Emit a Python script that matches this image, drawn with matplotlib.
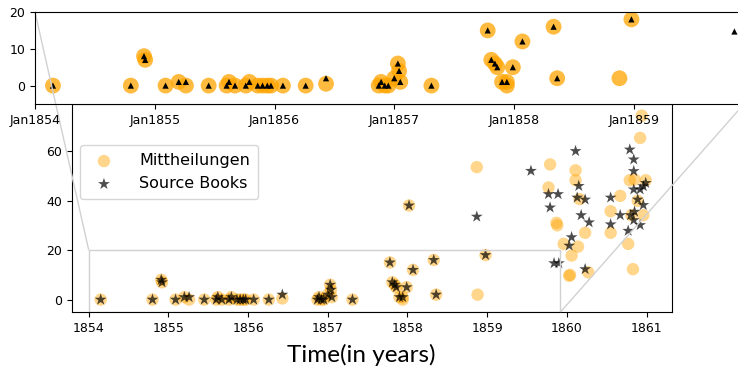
import matplotlib
matplotlib.use('Agg')
import matplotlib.pyplot as plt
from mpl_toolkits.axes_grid1.inset_locator import mark_inset

# Mittheilungen: (year, count)
mitt_years = [1854.15, 1854.80, 1854.91, 1854.92, 1855.09, 1855.20, 1855.26, 1855.45,
              1855.60, 1855.62, 1855.67, 1855.76, 1855.79, 1855.86, 1855.90, 1855.94,
              1855.97, 1856.07, 1856.26, 1856.43,
              1856.87, 1856.89, 1856.92, 1856.95, 1857.00, 1857.03, 1857.04, 1857.05,
              1857.31, 1857.78, 1857.81, 1857.84, 1857.86, 1857.90, 1857.94, 1857.94,
              1857.99, 1858.02, 1858.07, 1858.33, 1858.36, 1858.88, 1858.87, 1858.98,
              1859.79, 1859.77, 1859.87, 1859.88, 1859.96, 1860.06, 1860.03, 1860.04,
              1860.11, 1860.11, 1860.16, 1860.14, 1860.23, 1860.27, 1860.55, 1860.55,
              1860.67, 1860.77, 1860.83, 1860.79, 1860.85, 1860.92, 1860.94, 1860.99,
              1860.89, 1860.96, 1860.81]
mitt_counts = [0, 0, 8, 7, 0, 1, 0, 0,
               0, 1, 0, 0, 1, 0, 0, 0,
               0, 0, 0, 0.5,
               0, 1, 0, 0, 2, 6, 4, 1,
               0, 15, 7, 6, 5, 1, 1, 0,
               5, 38, 12, 16, 2, 2, 53.5, 18,
               54.6, 45.3, 31, 30, 22.5, 17.8, 9.6, 10,
               52.2, 48.2, 40.6, 21.4, 27, 11, 35.7, 27,
               41.9, 22.5, 12.3, 48.2, 48.5, 65.3, 74.3, 48.2,
               39.9, 34.1, 34.1]

# Source Books: (year, count)
src_years = [1854.15, 1854.80, 1854.91, 1854.92, 1855.09, 1855.20, 1855.26, 1855.45,
             1855.60, 1855.62, 1855.67, 1855.76, 1855.79, 1855.86, 1855.90, 1855.94,
             1855.97, 1856.07, 1856.26, 1856.43,
             1856.87, 1856.89, 1856.92, 1856.95, 1857.00, 1857.03, 1857.04, 1857.05,
             1857.31, 1857.78, 1857.81, 1857.84, 1857.86, 1857.90, 1857.94,
             1857.99, 1858.02, 1858.07, 1858.33, 1858.36, 1858.87, 1858.98,
             1859.55, 1859.77, 1859.89, 1859.79, 1859.84, 1859.90, 1860.06, 1860.03,
             1860.11, 1860.15, 1860.13, 1860.23, 1860.18, 1860.28, 1860.23, 1860.55,
             1860.55, 1860.67, 1860.79, 1860.84, 1860.84, 1860.84, 1860.89, 1860.92,
             1860.96, 1860.99, 1860.96, 1860.85, 1860.80, 1860.84, 1860.92, 1860.77]
src_counts = [0, 0, 8, 7, 0, 1, 1, 0,
              0, 1, 0, 0, 1, 0, 0, 0,
              0, 0, 0, 2,
              0, 1, 0, 0, 2, 6, 4, 1,
              0, 15, 7, 6, 5, 1, 1,
              5, 38, 12, 16, 2, 33.5, 18,
              52, 42.6, 42.6, 37.2, 14.7, 14.7, 25.2, 21.8,
              60, 45.9, 41.2, 40.4, 34.1, 31.2, 12.3, 41.2,
              30.4, 34.1, 60.6, 56.6, 51.9, 44.5, 40.4, 44.5,
              45.8, 47.1, 38.2, 35.5, 34.1, 32.1, 30.1, 27.8]

main_years = [1854, 1855, 1856, 1857, 1858, 1859, 1860, 1861]
zoom_years = [1854, 1855, 1856, 1857, 1858, 1859]
zoom_labels = ['Jan' + str(y) for y in zoom_years]

fig = plt.figure(figsize=(7.38, 3.72), dpi=100)

ax = fig.add_axes([72 / 738, 1 - 312 / 372, 600 / 738, 208 / 372])
ax.scatter(mitt_years, mitt_counts, s=80, color='orange', alpha=0.45,
           edgecolors='none', label='Mittheilungen')
ax.scatter(src_years, src_counts, s=80, color='black', alpha=0.7, marker='*',
           edgecolors='none', label='Source Books')
ax.set_xlim(1853.79, 1861.32)
ax.set_ylim(-5, 79)
ax.set_xticks(main_years)
ax.set_yticks([0, 20, 40, 60])
ax.tick_params(labelsize=9)
ax.legend(loc='upper left', bbox_to_anchor=(0.0, 0.84), fontsize=11.5,
          handletextpad=1.2, borderpad=0.5)

axins = fig.add_axes([35 / 738, 1 - 104 / 372, 709 / 738, 92 / 372])
axins.scatter(mitt_years, mitt_counts, s=130, color='orange', alpha=0.75,
              edgecolors='none')
axins.scatter(src_years, src_counts, s=20, color='black', marker='^',
              edgecolors='none')
axins.set_xlim(1854, 1859.92)
axins.set_ylim(-5, 20)
axins.set_xticks(zoom_years)
axins.set_xticklabels(zoom_labels)
axins.set_yticks([0, 10, 20])
axins.tick_params(labelsize=9)

mark_inset(ax, axins, loc1=2, loc2=4, fc='none', ec='0.82', lw=1)

fig.text(0.49, 0.045, 'Time(in years)', ha='center', va='center',
         fontsize=17.5, family=['Lato', 'DejaVu Sans'])

fig.savefig('out.png', dpi=100)
